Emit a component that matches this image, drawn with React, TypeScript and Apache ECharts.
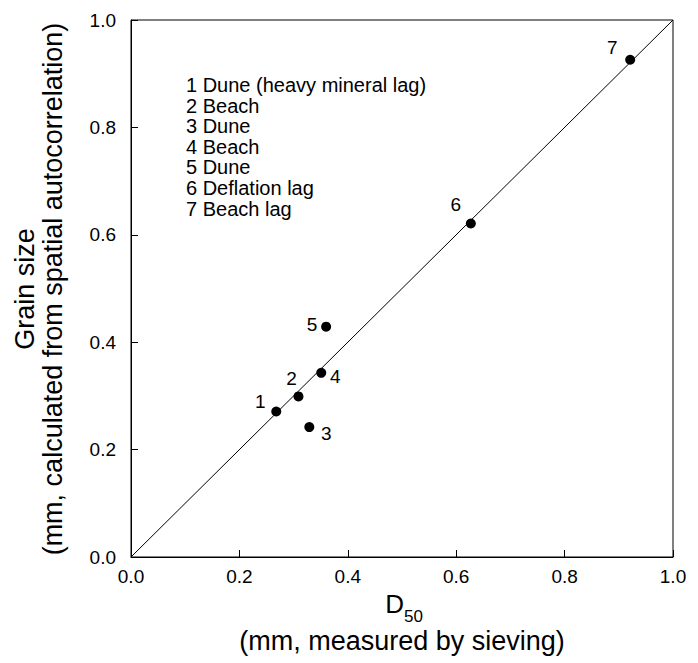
import React, { useEffect, useRef } from "react";
import * as echarts from "echarts";

const pointIds = ["1", "2", "3", "4", "5", "6", "7"];
const d50Measured = [0.268, 0.309, 0.329, 0.351, 0.36, 0.627, 0.921];
const grainCalculated = [0.271, 0.299, 0.242, 0.343, 0.429, 0.621, 0.926];
const legendLines = [
  "1 Dune (heavy mineral lag)",
  "2 Beach",
  "3 Dune",
  "4 Beach",
  "5 Dune",
  "6 Deflation lag",
  "7 Beach lag",
];
const identityLine = [
  [0, 0],
  [1, 1],
];
// label placement (pixels relative to the marker)
const labelOffsets = [
  [-16, -10],
  [-7, -18],
  [17, 6],
  [14, 4],
  [-14, -2],
  [-15, -19],
  [-18, -12],
];

const FONT = "'Liberation Sans', Arial, Helvetica, sans-serif";
const INK = "#000";

export default function App() {
  const ref = useRef<HTMLDivElement>(null);
  useEffect(() => {
    if (!ref.current) return;
    const chart = echarts.init(ref.current, undefined, { renderer: "svg" });
    const scatterData = d50Measured.map((x, i) => ({
      value: [x, grainCalculated[i]],
      name: pointIds[i],
      label: { offset: labelOffsets[i] },
    }));
    chart.setOption({
      animation: false,
      backgroundColor: "#ffffff",
      textStyle: { fontFamily: FONT },
      grid: {
        left: 131,
        top: 20,
        width: 542,
        height: 537,
        show: true,
        borderColor: INK,
        borderWidth: 1,
        backgroundColor: "transparent",
      },
      xAxis: {
        type: "value",
        min: 0,
        max: 1,
        interval: 0.2,
        axisLine: { show: true, lineStyle: { color: INK, width: 1 } },
        axisTick: { show: true, inside: true, length: 7, lineStyle: { color: INK } },
        splitLine: { show: false },
        axisLabel: {
          color: INK,
          fontSize: 19,
          fontFamily: FONT,
          margin: 10,
          formatter: (v: number) => v.toFixed(1),
        },
      },
      yAxis: {
        type: "value",
        min: 0,
        max: 1,
        interval: 0.2,
        axisLine: { show: true, lineStyle: { color: INK, width: 1 } },
        axisTick: { show: true, inside: true, length: 7, lineStyle: { color: INK } },
        splitLine: { show: false },
        axisLabel: {
          color: INK,
          fontSize: 19,
          fontFamily: FONT,
          margin: 15,
          formatter: (v: number) => v.toFixed(1),
        },
      },
      series: [
        {
          type: "line",
          data: identityLine,
          symbol: "none",
          lineStyle: { color: INK, width: 1 },
          silent: true,
          z: 1,
        },
        {
          type: "scatter",
          data: scatterData,
          symbol: "circle",
          symbolSize: 10,
          itemStyle: { color: INK, opacity: 1 },
          label: {
            show: true,
            position: "inside",
            formatter: (p: any) => p.name,
            color: INK,
            fontSize: 19,
            fontFamily: FONT,
          },
          z: 3,
        },
      ],
      graphic: [
        {
          type: "text",
          left: 186,
          top: 74.7,
          style: {
            text: legendLines.join("\n"),
            fontSize: 20,
            lineHeight: 20.6,
            fontFamily: FONT,
            fill: INK,
          },
        },
        {
          type: "text",
          x: 25,
          y: 289,
          rotation: Math.PI / 2,
          style: {
            text: "Grain size",
            fontSize: 27,
            fontFamily: FONT,
            fill: INK,
            align: "center",
            verticalAlign: "middle",
          },
        },
        {
          type: "text",
          x: 53,
          y: 289,
          rotation: Math.PI / 2,
          style: {
            text: "(mm, calculated from spatial autocorrelation)",
            fontSize: 27,
            fontFamily: FONT,
            fill: INK,
            align: "center",
            verticalAlign: "middle",
          },
        },
        {
          type: "text",
          x: 404,
          y: 604,
          style: {
            text: "D",
            fontSize: 26,
            fontFamily: FONT,
            fill: INK,
            align: "right",
            verticalAlign: "middle",
          },
        },
        {
          type: "text",
          x: 404,
          y: 616,
          style: {
            text: "50",
            fontSize: 17,
            fontFamily: FONT,
            fill: INK,
            align: "left",
            verticalAlign: "middle",
          },
        },
        {
          type: "text",
          x: 402,
          y: 641,
          style: {
            text: "(mm, measured by sieving)",
            fontSize: 27,
            fontFamily: FONT,
            fill: INK,
            align: "center",
            verticalAlign: "middle",
          },
        },
      ],
    });
    return () => chart.dispose();
  }, []);
  return (
    <div
      ref={ref}
      style={{ position: "fixed", left: 0, top: 0, width: 698, height: 663, background: "#fff" }}
    />
  );
}
